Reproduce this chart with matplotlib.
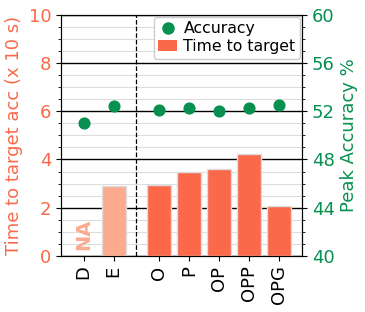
import matplotlib
matplotlib.use("Agg")
import matplotlib.pyplot as plt
from matplotlib.ticker import MultipleLocator
from matplotlib.lines import Line2D
from matplotlib.patches import Patch

categories = ["D", "E", "O", "P", "OP", "OPP", "OPG"]
positions = [0, 1, 2.5, 3.5, 4.5, 5.5, 6.5]
time_to_target = [0, 2.9, 2.95, 3.5, 3.6, 4.23, 2.05]
accuracy = [51.0, 52.45, 52.1, 52.25, 52.0, 52.3, 52.5]

bar_dark = "#fb694a"
bar_light = "#fcab8f"
green = "#07904f"
label_red = "#fb694a"

fig, ax = plt.subplots(figsize=(3.65, 3.12), dpi=100)
fig.subplots_adjust(left=0.167, right=0.827, top=0.952, bottom=0.18)

colors = [bar_light, bar_light] + [bar_dark] * 5
ax.bar(positions[1:], time_to_target[1:], width=0.8, color=colors[1:],
       edgecolor="#dddddd", linewidth=1.0, zorder=3)
ax.text(positions[0], 0.25, "NA", rotation=90, color=bar_light, fontweight="bold",
        fontsize=14, ha="center", va="bottom", zorder=4)

ax.set_ylim(0, 10)
ax.set_xlim(-0.75, 7.25)
ax.yaxis.set_major_locator(MultipleLocator(2))
ax.yaxis.set_minor_locator(MultipleLocator(0.5))
ax.grid(which="major", axis="y", color="black", linewidth=1.0, zorder=0)
ax.grid(which="minor", axis="y", color="#dddddd", linewidth=0.8, zorder=0)
ax.axvline(1.75, color="black", linestyle="--", linewidth=0.9, zorder=2)
ax.set_xticks(positions)
ax.set_xticklabels(categories, rotation=90, fontsize=13)
ax.tick_params(axis="y", colors=label_red, labelsize=13)
ax.tick_params(axis="y", which="both", color="black")
ax.set_ylabel("Time to target acc (x 10 s)", color=label_red, fontsize=13)

ax2 = ax.twinx()
ax2.scatter(positions, accuracy, color=green, s=60, zorder=5)
ax2.set_ylim(40, 60)
ax2.yaxis.set_major_locator(MultipleLocator(4))
ax2.yaxis.set_minor_locator(MultipleLocator(1))
ax2.tick_params(axis="y", labelcolor=green, labelsize=13)
ax2.set_ylabel("Peak Accuracy %", color=green, fontsize=13)

handles = [Line2D([], [], marker="o", linestyle="", color=green, markersize=8, label="Accuracy"),
           Patch(facecolor=bar_dark, label="Time to target")]
ax2.legend(handles=handles, loc="upper right", fontsize=11.3, handletextpad=0.4,
           borderpad=0.3, labelspacing=0.2, handlelength=1.2, borderaxespad=0.1,
           framealpha=1)

fig.savefig("out.png", dpi=100)
